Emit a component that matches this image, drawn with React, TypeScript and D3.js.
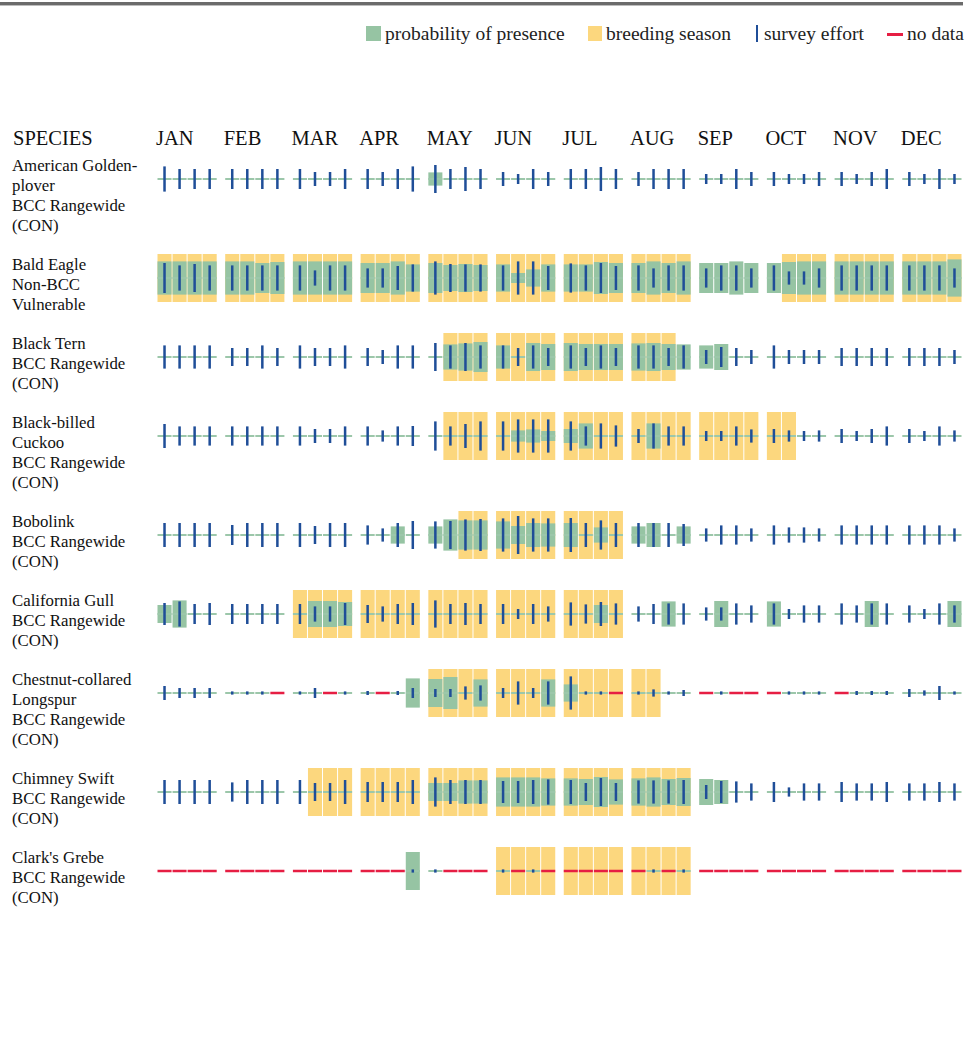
import React from 'react';
import * as d3 from 'd3';

const MONTHS = ['JAN', 'FEB', 'MAR', 'APR', 'MAY', 'JUN', 'JUL', 'AUG', 'SEP', 'OCT', 'NOV', 'DEC'];
const WEEKS = ['1', '2', '3', '4'];
const N = null;

const SPECIES_LABELS: string[][] = [
  ['American Golden-', 'plover', 'BCC Rangewide', '(CON)'],
  ['Bald Eagle', 'Non-BCC', 'Vulnerable'],
  ['Black Tern', 'BCC Rangewide', '(CON)'],
  ['Black-billed', 'Cuckoo', 'BCC Rangewide', '(CON)'],
  ['Bobolink', 'BCC Rangewide', '(CON)'],
  ['California Gull', 'BCC Rangewide', '(CON)'],
  ['Chestnut-collared', 'Longspur', 'BCC Rangewide', '(CON)'],
  ['Chimney Swift', 'BCC Rangewide', '(CON)'],
  ["Clark's Grebe", 'BCC Rangewide', '(CON)'],
];

// probability of presence (relative %, 4 weeks per month)
const PROB_GOLDEN_PLOVER = [0,0,0,0, 0,0,0,0, 0,0,0,0, 0,0,0,0, 33,0,0,0, 0,0,0,0, 0,0,0,0, 0,0,0,0, 0,0,0,0, 0,0,0,0, 0,0,0,0, 0,0,0,0];
const PROB_BALD_EAGLE = [83,83,83,83, 83,83,75,80, 83,83,83,83, 75,75,83,68, 75,65,70,65, 68,25,43,68, 68,68,80,75, 75,83,75,83, 75,75,83,75, 75,80,83,83, 83,83,83,83, 83,83,83,93];
const PROB_BLACK_TERN = [0,0,0,0, 0,0,0,0, 0,0,0,0, 0,0,0,0, 0,63,68,75, 58,0,70,65, 70,65,65,65, 68,70,65,63, 58,65,0,0, 0,0,0,0, 0,0,0,0, 0,0,0,0];
const PROB_CUCKOO = [0,0,0,0, 0,0,0,0, 0,0,0,0, 0,0,0,0, 0,0,0,0, 0,28,33,25, 35,63,0,0, 0,63,0,0, 0,0,0,0, 0,0,0,0, 0,0,0,0, 0,0,0,0];
const PROB_BOBOLINK = [0,0,0,0, 0,0,0,0, 0,0,0,0, 0,0,43,0, 43,78,73,73, 68,45,60,58, 60,0,38,0, 43,60,0,43, 0,0,0,0, 0,0,0,0, 0,0,0,0, 0,0,0,0];
const PROB_CA_GULL = [45,68,0,0, 0,0,0,0, 0,65,65,60, 0,0,0,0, 0,0,0,0, 0,0,0,0, 0,0,45,0, 0,0,63,0, 0,65,0,0, 63,0,0,0, 0,0,65,0, 0,0,0,65];
const PROB_LONGSPUR = [0,0,0,0, 0,0,0,0, 0,0,0,0, 0,0,0,73, 70,80,0,68, 0,0,0,68, 43,0,0,0, 0,0,0,0, 0,0,0,0, 0,0,0,0, 0,0,0,0, 0,0,0,0];
const PROB_CHIMNEY_SWIFT = [0,0,0,0, 0,0,0,0, 0,0,0,0, 0,0,0,0, 45,45,58,58, 73,73,73,68, 68,65,75,63, 68,73,65,70, 65,60,0,0, 0,0,0,0, 0,0,0,0, 0,0,0,0];
const PROB_CLARKS_GREBE = [0,0,0,0, 0,0,0,0, 0,0,0,0, 0,0,0,95, 0,0,0,0, 0,0,0,0, 0,0,0,0, 0,0,0,0, 0,0,0,0, 0,0,0,0, 0,0,0,0, 0,0,0,0];

// survey effort (relative), null = no data
const EFFORT_GOLDEN_PLOVER = [63,50,50,50, 50,50,50,50, 50,35,35,50, 50,35,50,63, 70,50,60,50, 35,25,50,35, 50,50,60,50, 35,50,50,50, 25,25,50,35, 35,25,25,35, 35,25,35,50, 35,25,50,25];
const EFFORT_BALD_EAGLE = [75,63,70,63, 63,63,63,63, 63,38,63,63, 48,48,60,68, 83,70,68,68, 63,83,83,60, 73,63,75,60, 63,48,63,63, 48,63,63,48, 63,33,33,48, 63,63,63,63, 63,63,63,48];
const EFFORT_BLACK_TERN = [58,58,58,58, 45,45,58,45, 58,45,45,58, 45,35,58,58, 70,58,70,58, 58,45,58,45, 58,45,58,45, 58,58,45,58, 35,50,45,35, 58,35,35,35, 45,45,45,45, 45,45,45,35];
const EFFORT_CUCKOO = [60,48,48,48, 48,48,48,48, 48,35,35,48, 48,28,48,50, 73,48,60,73, 73,83,83,83, 73,48,63,53, 35,63,48,48, 25,25,48,33, 35,28,25,28, 35,25,35,48, 35,25,48,28];
const EFFORT_BOBOLINK = [60,60,60,60, 50,60,60,60, 60,45,60,60, 48,33,60,70, 68,70,78,80, 83,95,83,83, 85,60,73,60, 60,60,60,55, 33,48,48,33, 48,38,38,33, 48,48,48,48, 48,48,48,33];
const EFFORT_CA_GULL = [55,63,50,55, 50,50,50,50, 50,38,38,55, 45,38,50,55, 68,50,55,50, 50,25,50,38, 58,48,60,53, 38,50,53,53, 33,33,53,43, 53,25,43,43, 53,43,53,53, 43,25,53,43];
const EFFORT_LONGSPUR = [35,25,25,25, 8,8,8,N, 8,25,N,8, 10,N,10,25, 20,20,33,38, 25,58,25,58, 83,8,8,N, 8,18,8,15, N,8,N,N, N,8,8,8, N,10,10,10, 20,13,35,8];
const EFFORT_CHIMNEY_SWIFT = [60,60,60,60, 48,60,60,60, 60,45,45,60, 50,50,50,60, 73,60,60,60, 55,55,60,63, 60,45,70,45, 58,58,58,60, 35,55,53,43, 50,23,43,43, 50,43,43,50, 43,43,50,43];
const EFFORT_CLARKS_GREBE = [N,N,N,N, N,N,N,N, N,N,N,N, N,N,N,8, 8,N,N,N, 8,N,8,N, N,N,N,N, N,8,N,8, N,N,N,N, N,N,N,N, N,N,N,N, N,N,N,N];

// breeding season as [first week, last week] (0-based week index of the year)
const BREED_GOLDEN_PLOVER: number[][] = [];
const BREED_BALD_EAGLE = [[0, 31], [37, 47]];
const BREED_BLACK_TERN = [[17, 30]];
const BREED_CUCKOO = [[17, 37]];
const BREED_BOBOLINK = [[18, 27]];
const BREED_CA_GULL = [[8, 27]];
const BREED_LONGSPUR = [[16, 29]];
const BREED_CHIMNEY_SWIFT = [[9, 31]];
const BREED_CLARKS_GREBE = [[20, 31]];

const PROBS = [PROB_GOLDEN_PLOVER, PROB_BALD_EAGLE, PROB_BLACK_TERN, PROB_CUCKOO, PROB_BOBOLINK, PROB_CA_GULL, PROB_LONGSPUR, PROB_CHIMNEY_SWIFT, PROB_CLARKS_GREBE];
const EFFORTS = [EFFORT_GOLDEN_PLOVER, EFFORT_BALD_EAGLE, EFFORT_BLACK_TERN, EFFORT_CUCKOO, EFFORT_BOBOLINK, EFFORT_CA_GULL, EFFORT_LONGSPUR, EFFORT_CHIMNEY_SWIFT, EFFORT_CLARKS_GREBE];
const BREEDS = [BREED_GOLDEN_PLOVER, BREED_BALD_EAGLE, BREED_BLACK_TERN, BREED_CUCKOO, BREED_BOBOLINK, BREED_CA_GULL, BREED_LONGSPUR, BREED_CHIMNEY_SWIFT, BREED_CLARKS_GREBE];

const LEGEND = ['probability of presence', 'breeding season', 'survey effort', 'no data'];

const C_YELLOW = '#fcd77e';
const C_GREEN = '#96c4a3';
const C_BASE = '#9cc7aa';
const C_BLUE = '#1f4e98';
const C_RED = '#e61e43';
const FONT = '"Liberation Serif", "Times New Roman", serif';

export default function App() {
  const W = 968;
  const H = 1047;
  const x = d3.scaleBand<string>().domain(MONTHS).range([157, 962]).paddingInner(0.111).paddingOuter(0);
  const xw = d3.scaleBand<string>().domain(WEEKS).range([0, x.bandwidth()]);
  const cw = xw.bandwidth();
  const hProb = d3.scaleLinear().domain([0, 100]).range([0, 40]);
  const hEff = d3.scaleLinear().domain([0, 100]).range([0, 40]);
  const rowH = 48;
  const lineH = 20;

  const rowTops: number[] = [];
  let t = 155;
  SPECIES_LABELS.forEach((lines) => {
    rowTops.push(t);
    t += lines.length * lineH + 19;
  });

  const weekX = (i: number) => (x(MONTHS[Math.floor(i / 4)]) as number) + (xw(WEEKS[i % 4]) as number);

  return (
    <svg width={W} height={H} style={{ position: 'absolute', left: 0, top: 0, background: '#fff' }} fontFamily={FONT}>
      <rect x={0} y={0} width={W} height={H} fill="#fff" />
      {/* top rule */}
      <rect x={0} y={2} width={963} height={3} fill="#6b6b6b" />
      <rect x={0} y={5} width={963} height={1} fill="#bdbdbd" />

      {/* legend */}
      <g fontSize={19.5} fill="#222">
        <rect x={366} y={26} width={15} height={15} fill={C_GREEN} />
        <text x={385} y={40}>{LEGEND[0]}</text>
        <rect x={588} y={26} width={14} height={15} fill={C_YELLOW} />
        <text x={606} y={40}>{LEGEND[1]}</text>
        <rect x={756} y={25} width={2} height={17} fill={C_BLUE} />
        <text x={764} y={40}>{LEGEND[2]}</text>
        <rect x={887} y={33} width={16} height={3} fill={C_RED} />
        <text x={907} y={40}>{LEGEND[3]}</text>
      </g>

      {/* header */}
      <g fontSize={20.5} fill="#111">
        <text x={13} y={145}>SPECIES</text>
        {MONTHS.map((m) => (
          <text key={m} x={(x(m) as number) - 1} y={145}>{m}</text>
        ))}
      </g>

      {SPECIES_LABELS.map((lines, s) => {
        const top = rowTops[s];
        const cy = top + rowH / 2;
        const probs = PROBS[s];
        const efforts = EFFORTS[s];
        const breeds = BREEDS[s];
        const isBreed = (i: number) => breeds.some(([a, b]) => i >= a && i <= b);
        return (
          <g key={s}>
            <g fontSize={16.8} fill="#111">
              {lines.map((ln, k) => (
                <text key={k} x={12} y={top + 15.5 + k * lineH}>{ln}</text>
              ))}
            </g>
            {probs.map((_, i) => isBreed(i) ? (
              <rect key={'b' + i} x={weekX(i) + 0.5} y={top} width={cw - 1} height={rowH} fill={C_YELLOW} />
            ) : null)}
            {probs.map((p, i) => p > 0 ? (
              <rect key={'p' + i} x={weekX(i) + 0.5} y={cy - hProb(p) / 2} width={cw - 1} height={hProb(p)} fill={C_GREEN} />
            ) : null)}
            {efforts.map((e, i) => e === null ? (
              <rect key={'n' + i} x={weekX(i) + 0.5} y={cy - 1.25} width={cw - 1} height={2.5} fill={C_RED} />
            ) : (
              <g key={'e' + i}>
                <rect x={weekX(i) + 0.5} y={cy - 1} width={cw - 1} height={2} fill={C_BASE} />
                <rect x={weekX(i) + cw / 2 - 1.25} y={cy - hEff(e) / 2} width={2.5} height={hEff(e)} fill={C_BLUE} />
              </g>
            ))}
          </g>
        );
      })}
    </svg>
  );
}
